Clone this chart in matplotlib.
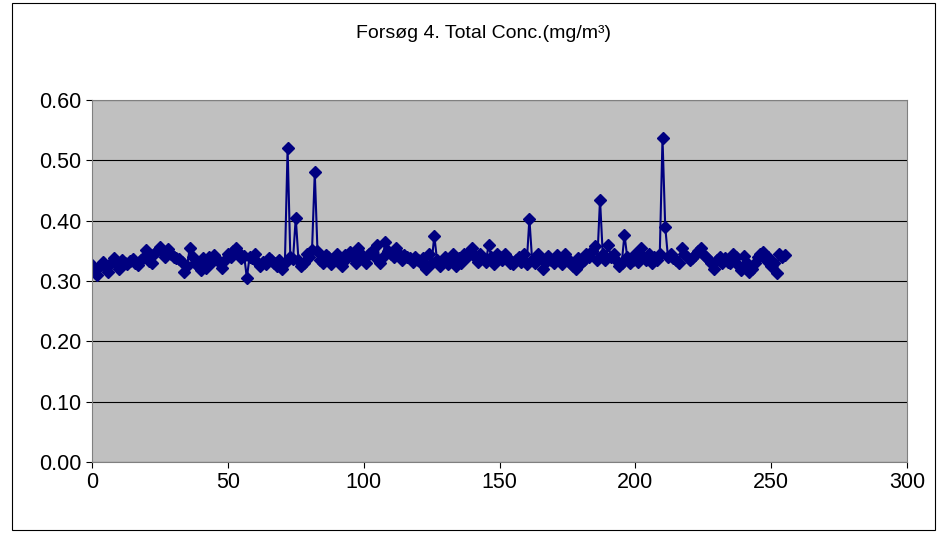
import matplotlib
matplotlib.use("Agg")
import matplotlib.pyplot as plt
from matplotlib.patches import Rectangle

plt.rcParams['font.family'] = ['Liberation Sans', 'DejaVu Sans']

title = "Forsøg 4. Total Conc.(mg/m³)"
values = [
0.327,0.318,0.310,0.325,0.332,0.322,0.315,0.330,0.338,0.328,0.320,0.335,0.330,0.328,0.333,0.336,
0.330,0.326,0.334,0.340,0.352,0.333,0.330,0.345,0.350,0.357,0.348,0.340,0.353,0.345,0.340,0.338,
0.336,0.332,0.315,0.325,0.355,0.340,0.330,0.325,0.318,0.338,0.322,0.340,0.332,0.343,0.337,0.330,
0.322,0.334,0.345,0.340,0.350,0.355,0.347,0.338,0.342,0.305,0.340,0.338,0.345,0.330,0.325,0.332,
0.328,0.338,0.335,0.330,0.325,0.335,0.320,0.330,0.520,0.340,0.336,0.405,0.335,0.325,0.330,0.345,
0.340,0.352,0.480,0.350,0.335,0.330,0.343,0.340,0.328,0.336,0.345,0.333,0.325,0.343,0.338,0.348,
0.340,0.330,0.355,0.345,0.338,0.330,0.345,0.350,0.340,0.360,0.330,0.340,0.365,0.350,0.345,0.340,
0.355,0.345,0.335,0.343,0.340,0.338,0.332,0.340,0.335,0.330,0.338,0.320,0.345,0.330,0.375,0.335,
0.325,0.332,0.340,0.328,0.335,0.345,0.325,0.338,0.330,0.345,0.340,0.350,0.355,0.340,0.332,0.345,
0.338,0.332,0.360,0.340,0.328,0.345,0.340,0.335,0.345,0.338,0.330,0.328,0.335,0.340,0.332,0.345,
0.328,0.403,0.335,0.330,0.345,0.340,0.320,0.332,0.342,0.335,0.330,0.343,0.335,0.328,0.345,0.338,
0.330,0.325,0.320,0.338,0.330,0.335,0.345,0.340,0.350,0.358,0.335,0.435,0.345,0.335,0.360,0.340,
0.345,0.335,0.325,0.330,0.377,0.340,0.330,0.335,0.345,0.332,0.355,0.340,0.335,0.345,0.330,0.340,
0.335,0.345,0.537,0.390,0.340,0.345,0.338,0.335,0.330,0.355,0.345,0.340,0.335,0.338,0.343,0.350,
0.355,0.345,0.340,0.335,0.330,0.320,0.335,0.340,0.330,0.338,0.332,0.330,0.345,0.340,0.325,0.318,
0.342,0.330,0.315,0.320,0.330,0.340,0.345,0.348,0.335,0.340,0.325,0.330,0.313,0.345,0.340,0.343,
]
xs = list(range(len(values)))
xticks = [0, 50, 100, 150, 200, 250, 300]
yticks = [0.0, 0.1, 0.2, 0.3, 0.4, 0.5, 0.6]

W, H = 942, 533
fig = plt.figure(figsize=(W/100, H/100), dpi=100)
fig.patches.append(Rectangle((12/W, 3/H), 923/W, 527/H, transform=fig.transFigure,
                             fill=False, edgecolor='black', linewidth=0.8))
ax = fig.add_axes([92/W, 1-462/H, 815/W, 362/H])
ax.set_facecolor('#c0c0c0')
ax.plot(xs, values, color='#000080', linewidth=1.5, marker='D', markersize=6.5,
        markerfacecolor='#000080', markeredgecolor='#000080')
ax.set_xlim(0, 300)
ax.set_ylim(0, 0.6)
ax.set_xticks(xticks)
ax.set_yticks(yticks)
ax.set_yticklabels([f"{v:.2f}" for v in yticks])
ax.grid(axis='y', color='black', linewidth=0.8)
ax.tick_params(labelsize=15.5, direction='out', length=4)
for s in ['top', 'right']:
    ax.spines[s].set_color('#808080')
for s in ['left', 'bottom']:
    ax.spines[s].set_color('#808080')
ax.set_axisbelow(True)
fig.text(484/W, 1-33/H, title, ha='center', va='center', fontsize=14)
fig.savefig("out.png", dpi=100)
